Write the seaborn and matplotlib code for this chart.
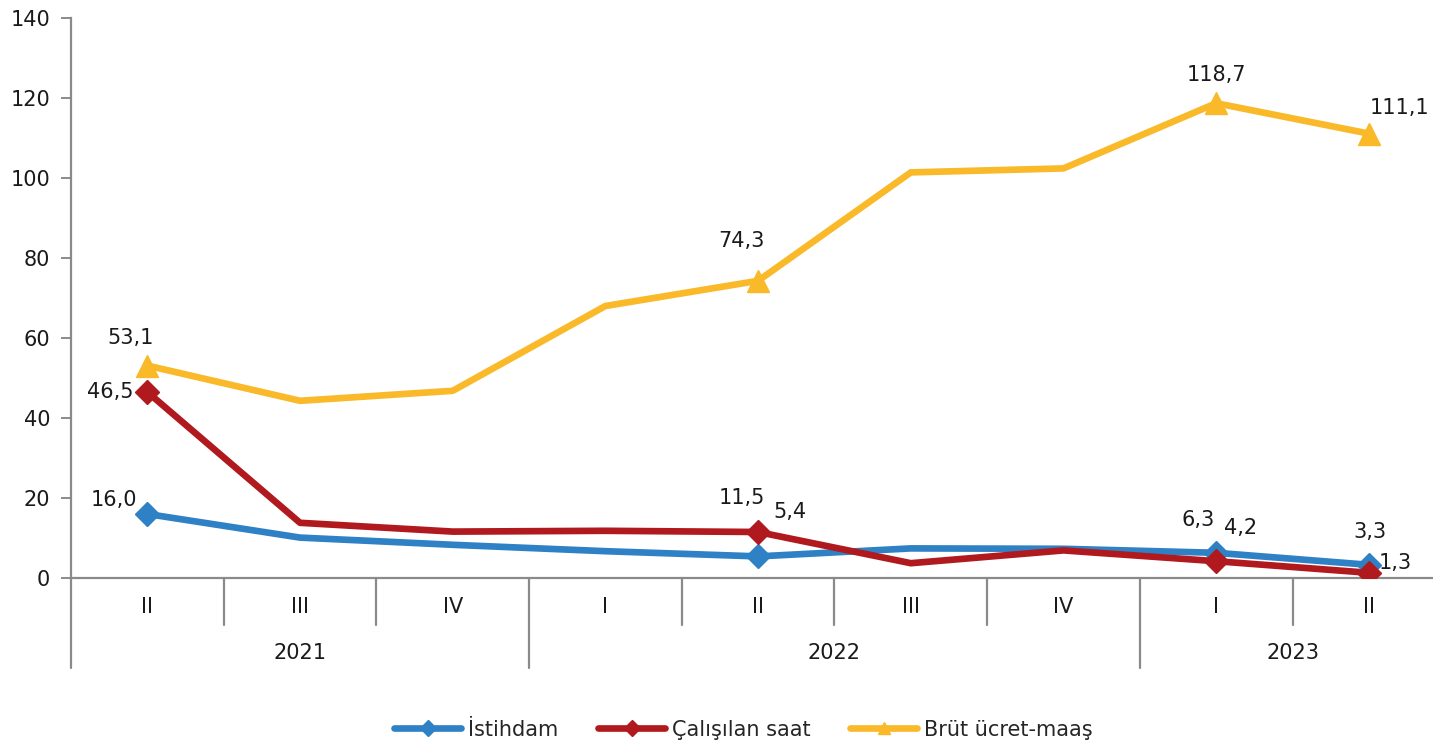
import matplotlib
matplotlib.use("Agg")
import matplotlib.pyplot as plt
import seaborn as sns
import pandas as pd
from matplotlib.transforms import blended_transform_factory
from matplotlib.lines import Line2D

# ---- data ----
quarters = ["II", "III", "IV", "I", "II", "III", "IV", "I", "II"]
years = ["2021", "2022", "2023"]
year_spans = [(0, 2), (3, 6), (7, 8)]
series_names = ["İstihdam", "Çalışılan saat", "Brüt ücret-maaş"]
istihdam = [16.0, 10.1, 8.3, 6.7, 5.4, 7.4, 7.3, 6.3, 3.3]
calisilan = [46.5, 13.8, 11.6, 11.8, 11.5, 3.7, 6.9, 4.2, 1.3]
brut = [53.1, 44.3, 46.8, 68.0, 74.3, 101.4, 102.4, 118.7, 111.1]
yticks = [0, 20, 40, 60, 80, 100, 120, 140]

colors = {"İstihdam": "#2F81C6", "Çalışılan saat": "#B0191E", "Brüt ücret-maaş": "#F9B928"}
markers = {"İstihdam": "D", "Çalışılan saat": "D", "Brüt ücret-maaş": "^"}

sns.set_theme(style="white")
plt.rcParams["font.family"] = ["DejaVu Sans"]
FS = 15
TXT = "#1a1a1a"

df = pd.DataFrame({
    "x": list(range(len(quarters))) * 3,
    "value": istihdam + calisilan + brut,
    "series": [s for s in series_names for _ in quarters],
})

fig = plt.figure(figsize=(14.33, 7.5), dpi=100)
ax = fig.add_axes([71 / 1433, 1 - 578 / 750, 1 - 71 / 1433, 560 / 750])

sns.lineplot(data=df, x="x", y="value", hue="series", hue_order=series_names,
             palette=colors, linewidth=4.8, ax=ax, legend=False, sort=False)

# markers only on labelled points
marked = [0, 4, 7, 8]
for name, vals in zip(series_names, [istihdam, calisilan, brut]):
    ms = 16 if markers[name] == "^" else 12.5
    ax.plot(marked, [vals[i] for i in marked],
            linestyle="none", marker=markers[name], color=colors[name],
            markersize=ms, zorder=5)

ax.set_xlim(-0.5, 8.42)
ax.set_ylim(0, 140)
ax.set_yticks(yticks)
ax.set_yticklabels([str(v) for v in yticks], fontsize=FS, color=TXT)
ax.tick_params(axis="y", direction="out", length=7, width=1.4, color="#8a8a8a", pad=8, left=True)
ax.set_xticks([])
ax.set_xlabel("")
ax.set_ylabel("")
for s in ["top", "right"]:
    ax.spines[s].set_visible(False)
for s in ["left", "bottom"]:
    ax.spines[s].set_color("#8a8a8a")
    ax.spines[s].set_linewidth(1.6)

# multi-level category axis
tr = blended_transform_factory(ax.transData, ax.transAxes)
short = -47 / 560
long_ = -90 / 560
ax.plot([-0.5, -0.5], [0, long_], transform=tr, color="#8a8a8a", lw=1.6, clip_on=False)
for i in range(len(quarters) - 1):
    b = i + 0.5
    bottom = long_ if b in (2.5, 6.5) else short
    ax.plot([b, b], [0, bottom], transform=tr, color="#8a8a8a", lw=1.6, clip_on=False)
for i, q in enumerate(quarters):
    ax.text(i, -29 / 560, q, transform=tr, ha="center", va="center", fontsize=FS, color=TXT)
for y, (a, b) in zip(years, year_spans):
    ax.text((a + b) / 2, -75 / 560, y, transform=tr, ha="center", va="center", fontsize=FS, color=TXT)

def fmt(v):
    return f"{v:.1f}".replace(".", ",")

labels = [
    (brut, 0, (-17, 28), "center"),
    (brut, 4, (-17, 40), "center"),
    (brut, 7, (0, 28), "center"),
    (brut, 8, (31, 26), "center"),
    (calisilan, 0, (-14, 0), "right"),
    (calisilan, 4, (-16, 34), "center"),
    (istihdam, 0, (-10, 14), "right"),
    (istihdam, 4, (32, 44), "center"),
    (istihdam, 7, (-18, 33), "center"),
    (calisilan, 7, (24, 33), "center"),
    (istihdam, 8, (1, 33), "center"),
    (calisilan, 8, (26, 10), "center"),
]
for vals, i, (dx, dy), ha in labels:
    ax.annotate(fmt(vals[i]), xy=(i, vals[i]), xytext=(dx, dy), textcoords="offset pixels",
                ha=ha, va="center", fontsize=FS, color=TXT, annotation_clip=False, zorder=6)

# legend
handles = [Line2D([], [], color=colors[n], lw=4.8, marker=markers[n], markersize=8) for n in series_names]
fig.legend(handles, series_names, loc="center", bbox_to_anchor=(0.519, 0.027), ncol=3,
           frameon=False, fontsize=FS, handlelength=3.2, handletextpad=0.35, columnspacing=1.9)

fig.savefig("out.png", dpi=100)
